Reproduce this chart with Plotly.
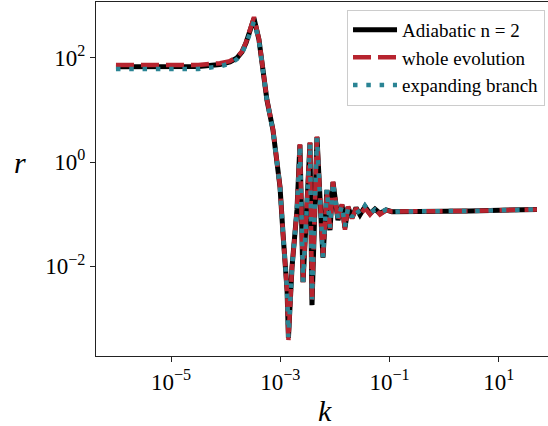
import plotly.graph_objects as go

# wavenumber k (shared sampling)
k = [9.79e-7, 1.0e-5, 3.16e-5, 7.87e-5, 1.20e-4, 1.61e-4, 1.99e-4, 2.36e-4, 2.79e-4,
     3.30e-4, 4.07e-4, 4.82e-4, 5.70e-4, 7.35e-4, 9.89e-4, 1.12e-3, 1.33e-3, 1.41e-3,
     1.64e-3, 2.02e-3, 2.29e-3, 2.61e-3, 3.50e-3, 3.81e-3, 4.70e-3, 6.05e-3, 7.16e-3,
     8.13e-3, 9.23e-3, 1.14e-2, 1.35e-2, 1.53e-2, 1.74e-2, 2.06e-2, 2.44e-2, 2.88e-2,
     3.56e-2, 4.40e-2, 5.42e-2, 6.70e-2, 8.63e-2, 0.111, 0.156, 2.98, 50.2]

r_adiabatic = [68.1, 68.1, 68.4, 75.0, 83.8, 100, 130, 195, 347, 575, 224, 58.9, 15.5, 4.12,
               0.331, 0.0432, 3.47e-3, 4.17e-4, 9.55e-3, 0.120, 2.14, 4.90e-3, 2.34, 1.78e-3,
               3.02, 0.0145, 0.292, 0.0490, 0.412, 0.0767, 0.150, 0.0543, 0.136, 0.0851,
               0.132, 0.0966, 0.140, 0.102, 0.125, 0.103, 0.120, 0.111, 0.112, 0.115, 0.123]

r_whole = [73, 73, 73.5, 79, 87, 103, 133, 200, 360, 610, 230, 60, 15.8, 4.2,
           0.335, 0.043, 3.4e-3, 3.8e-4, 9.5e-3, 0.12, 2.2, 4.9e-3, 2.4, 2.2e-3,
           3.1, 0.0155, 0.28, 0.052, 0.42, 0.075, 0.155, 0.050, 0.14, 0.082,
           0.13, 0.095, 0.130, 0.098, 0.128, 0.098, 0.118, 0.112, 0.112, 0.115, 0.123]

r_expanding = [61, 61, 61.5, 69, 78, 95, 124, 185, 330, 500, 215, 57, 15.2, 4.0,
               0.325, 0.044, 3.5e-3, 4.3e-4, 9.6e-3, 0.118, 2.1, 5.0e-3, 2.3, 2.3e-3,
               2.9, 0.0150, 0.30, 0.055, 0.40, 0.080, 0.145, 0.058, 0.13, 0.088,
               0.128, 0.098, 0.145, 0.104, 0.122, 0.106, 0.121, 0.110, 0.112, 0.115, 0.123]

x_tickvals = [1e-5, 1e-3, 1e-1, 1e1]
x_ticktext = ["10<sup>−5</sup>", "10<sup>−3</sup>", "10<sup>−1</sup>", "10<sup>1</sup>"]
y_tickvals = [1e-2, 1e0, 1e2]
y_ticktext = ["10<sup>−2</sup>", "10<sup>0</sup>", "10<sup>2</sup>"]

SERIF = "Liberation Serif, Times New Roman, serif"

fig = go.Figure()
fig.add_trace(go.Scatter(x=k, y=r_adiabatic, mode="lines", name="Adiabatic n = 2",
                         line=dict(color="black", width=5)))
fig.add_trace(go.Scatter(x=k, y=r_whole, mode="lines", name="whole evolution",
                         line=dict(color="#b7242f", width=4.5, dash="18px,7px")))
fig.add_trace(go.Scatter(x=k, y=r_expanding, mode="lines", name="expanding branch",
                         line=dict(color="#2a8494", width=4.5, dash="4.5px,8.8px")))

axis_common = dict(showgrid=False, zeroline=False, showline=True, linecolor="#222222",
                   linewidth=1.2, ticks="outside", ticklen=5, tickwidth=1.1,
                   tickcolor="#222222", tickfont=dict(family=SERIF, size=23, color="black"))

fig.update_xaxes(type="log", range=[-6.375, 1.903], tickvals=x_tickvals, ticktext=x_ticktext,
                 mirror=True, **axis_common)
fig.update_yaxes(type="log", range=[-3.727, 3.075], tickvals=y_tickvals, ticktext=y_ticktext,
                 mirror=False, **axis_common)

fig.add_annotation(text="<i>k</i>", xref="paper", yref="paper", x=0.5066, y=-0.153,
                   xanchor="center", yanchor="middle", showarrow=False,
                   font=dict(family=SERIF, size=30, color="black"))
fig.add_annotation(text="<i>r</i>", xref="paper", yref="paper", x=-0.168, y=0.548,
                   xanchor="center", yanchor="middle", showarrow=False,
                   font=dict(family=SERIF, size=30, color="black"))

fig.update_layout(
    width=548, height=426,
    margin=dict(l=96, r=0, t=2, b=70),
    plot_bgcolor="white", paper_bgcolor="white",
    showlegend=True,
    legend=dict(x=0.9934, y=0.978, xanchor="right", yanchor="top",
                bgcolor="rgba(255,255,255,0.85)", bordercolor="#cccccc", borderwidth=1,
                itemwidth=44,
                font=dict(family=SERIF, size=19, color="black")),
)

fig.write_html("out.html", config={"displayModeBar": False})
